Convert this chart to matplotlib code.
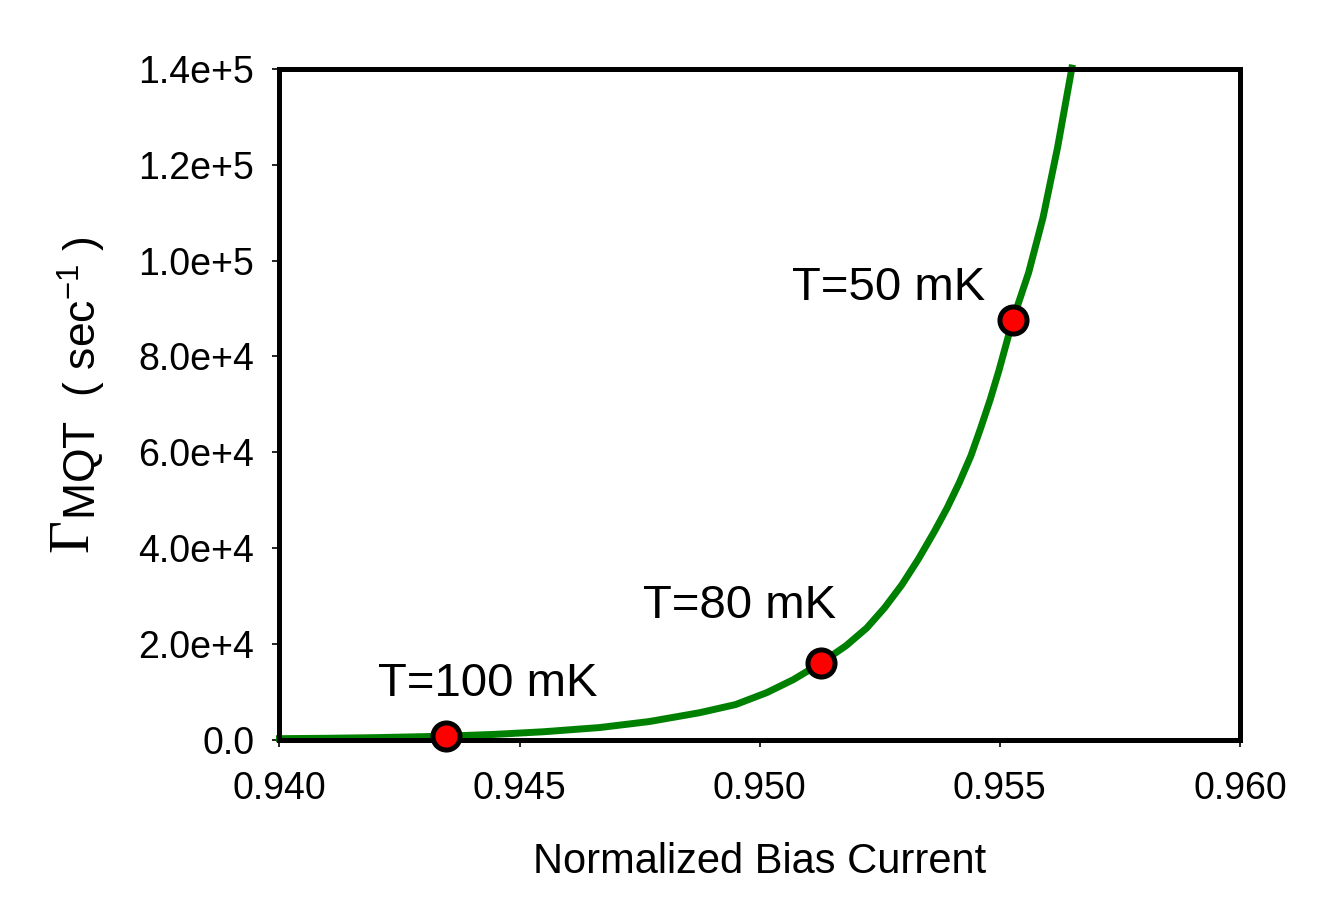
import matplotlib
matplotlib.use("Agg")
import matplotlib.pyplot as plt

plt.rcParams['font.family'] = ['Liberation Sans', 'DejaVu Sans']
plt.rcParams['mathtext.fontset'] = 'custom'
plt.rcParams['mathtext.rm'] = 'Liberation Sans'

# curve
bias = [0.9400, 0.9410, 0.9420, 0.94347, 0.9445, 0.9455, 0.94667, 0.9477,
        0.94875, 0.9495, 0.95015, 0.9507, 0.95128, 0.9518, 0.95223, 0.9526,
        0.95296, 0.9533, 0.95363, 0.9539, 0.95415, 0.9544, 0.95460, 0.9548,
        0.95498, 0.95527, 0.95560, 0.9559, 0.9562, 0.9565]
rate = [175, 260, 390, 700, 1080, 1620, 2500, 3750,
        5600, 7300, 9800, 12500, 16000, 19600, 23300, 27500,
        32300, 37600, 43300, 48300, 53500, 59300, 65000, 71000,
        77000, 87600, 97500, 109000, 123500, 140200]

pt_bias = [0.94347, 0.95128, 0.95527]
pt_rate = [700, 16000, 87600]
pt_labels = ['T=100 mK', 'T=80 mK', 'T=50 mK']
label_pos = [(0.94205, 9100), (0.94757, 25400), (0.95067, 91800)]

xticks = [0.940, 0.945, 0.950, 0.955, 0.960]
yticks = [0, 2e4, 4e4, 6e4, 8e4, 1e5, 1.2e5, 1.4e5]
ytick_labels = ['0.0', '2.0e+4', '4.0e+4', '6.0e+4', '8.0e+4', '1.0e+5', '1.2e+5', '1.4e+5']

fig = plt.figure(figsize=(13.27, 9.23), dpi=100)
ax = fig.add_axes([0.2106, 0.1988, 0.7238, 0.7264])

ax.plot(bias, rate, color='green', lw=5, zorder=2, clip_on=False,
        solid_joinstyle='round')
ax.plot(pt_bias, pt_rate, 'o', ms=19.5, mfc='red', mec='black', mew=3.6, zorder=3, clip_on=False)

for lab, (tx, ty) in zip(pt_labels, label_pos):
    ax.text(tx, ty, lab, fontsize=34, ha='left', va='baseline')

ax.set_xlim(0.940, 0.960)
ax.set_ylim(0, 1.4e5)
ax.set_xticks(xticks)
ax.set_xticklabels(['%.3f' % v for v in xticks])
ax.set_yticks(yticks)
ax.set_yticklabels(ytick_labels)

for s in ax.spines.values():
    s.set_linewidth(3.6)
ax.tick_params(direction='out', length=5, width=1.2, labelsize=27)
ax.tick_params(axis='x', pad=18)
ax.tick_params(axis='y', pad=13)

ax.set_xlabel('Normalized Bias Current', fontsize=30, labelpad=25)

# y label built from pieces: serif Gamma, sans subscript and unit
fig.text(87 / 1327, 1 - 552 / 923, '\u0393', family='Liberation Serif', fontsize=41,
         rotation=90, rotation_mode='anchor', ha='left', va='baseline')
fig.text(97 / 1327, 1 - 520 / 923, 'MQT  ( sec$^{\\mathrm{-1}}$ )', fontsize=32,
         rotation=90, rotation_mode='anchor', ha='left', va='baseline')

fig.savefig('out.png', dpi=100)
